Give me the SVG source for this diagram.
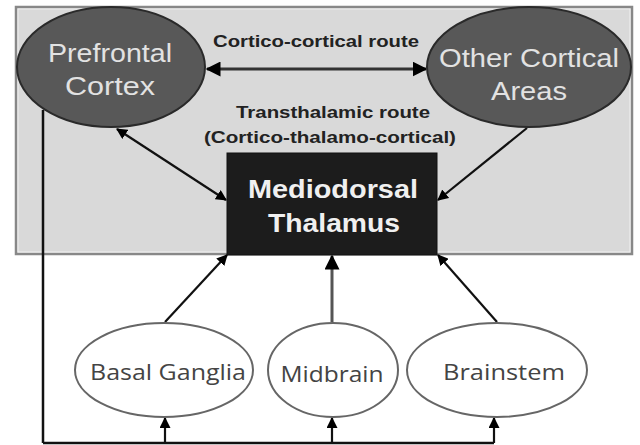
<svg xmlns="http://www.w3.org/2000/svg" width="640" height="445" viewBox="0 0 640 445">
<style>
.dark{fill:#585858;stroke:#2a2a2a;stroke-width:2}
.light{fill:#fff;stroke:#666;stroke-width:2}
.wt{font-family:"Liberation Sans",Arial,sans-serif;font-size:26px;fill:#e2e2e2;text-anchor:middle}
.bt{font-family:"Liberation Sans",Arial,sans-serif;font-size:16px;font-weight:bold;fill:#222;text-anchor:middle}
.lt{font-family:"Open Sans","Noto Sans",sans-serif;font-size:22px;fill:#444;text-anchor:middle}
.ln{stroke:#111;stroke-width:2.2;fill:none}
</style>
<defs>
<marker id="ah" viewBox="0 0 10 10" refX="9" refY="5" markerWidth="5" markerHeight="5" orient="auto-start-reverse">
<path d="M0,0 L10,5 L0,10 z" fill="#000"/>
</marker>
</defs>
<g id="cortex-box">
<rect x="16" y="7" width="616" height="247" fill="#d9d9d9" stroke="#888" stroke-width="2.5"/>
<rect x="18" y="9" width="612" height="243" fill="none" stroke="#f0f0f0" stroke-width="1"/>
</g>
<g id="connectors">
<line class="ln" x1="43" y1="110" x2="43" y2="443" style="stroke-width:2.5"/>
<line class="ln" x1="43" y1="443" x2="494" y2="443" style="stroke-width:2.5"/>
<line class="ln" x1="165" y1="443" x2="165" y2="418" marker-end="url(#ah)"/>
<line class="ln" x1="332" y1="443" x2="332" y2="418" marker-end="url(#ah)"/>
<line class="ln" x1="494" y1="443" x2="494" y2="418" marker-end="url(#ah)"/>
<line class="ln" x1="207" y1="69" x2="426" y2="69" marker-start="url(#ah)" marker-end="url(#ah)" style="stroke:#333;stroke-width:3"/>
<line class="ln" x1="117" y1="129" x2="226" y2="200" marker-start="url(#ah)" marker-end="url(#ah)"/>
<line class="ln" x1="527" y1="128" x2="438" y2="200" marker-end="url(#ah)"/>
<line class="ln" x1="165" y1="322" x2="227" y2="255" marker-end="url(#ah)"/>
<line class="ln" x1="332" y1="322" x2="332" y2="256" marker-end="url(#ah)" style="stroke:#555;stroke-width:3"/>
<line class="ln" x1="497" y1="322" x2="438" y2="255" marker-end="url(#ah)"/>
</g>
<g id="labels">
<text class="bt" x="316" y="47" textLength="206" lengthAdjust="spacingAndGlyphs">Cortico-cortical route</text>
<text class="bt" x="333" y="118" textLength="194" lengthAdjust="spacingAndGlyphs">Transthalamic route</text>
<text class="bt" x="330" y="143" textLength="252" lengthAdjust="spacingAndGlyphs">(Cortico-thalamo-cortical)</text>
</g>
<g id="prefrontal">
<ellipse class="dark" cx="111" cy="67" rx="94" ry="60"/>
<text class="wt" x="110" y="62" textLength="124" lengthAdjust="spacingAndGlyphs">Prefrontal</text>
<text class="wt" x="110" y="95" textLength="90" lengthAdjust="spacingAndGlyphs">Cortex</text>
</g>
<g id="other-cortical">
<ellipse class="dark" cx="529" cy="67" rx="102" ry="60"/>
<text class="wt" x="529" y="67" textLength="180" lengthAdjust="spacingAndGlyphs">Other Cortical</text>
<text class="wt" x="529" y="100" textLength="76" lengthAdjust="spacingAndGlyphs">Areas</text>
</g>
<g id="thalamus">
<rect x="227" y="153" width="210" height="102" fill="#1c1c1c" stroke="#111" stroke-width="1"/>
<text class="wt" x="333" y="198" textLength="170" lengthAdjust="spacingAndGlyphs" style="font-weight:bold;fill:#f0f0f0">Mediodorsal</text>
<text class="wt" x="334" y="232" textLength="132" lengthAdjust="spacingAndGlyphs" style="font-weight:bold;fill:#f0f0f0">Thalamus</text>
</g>
<g id="basal-ganglia">
<ellipse class="light" cx="164" cy="370" rx="89" ry="47"/>
<text class="lt" x="168" y="380" textLength="156" lengthAdjust="spacingAndGlyphs">Basal Ganglia</text>
</g>
<g id="midbrain">
<ellipse class="light" cx="333" cy="370" rx="65" ry="47"/>
<text class="lt" x="332" y="382" textLength="103" lengthAdjust="spacingAndGlyphs">Midbrain</text>
</g>
<g id="brainstem">
<ellipse class="light" cx="497" cy="370" rx="90" ry="47"/>
<text class="lt" x="504" y="380" textLength="122" lengthAdjust="spacingAndGlyphs">Brainstem</text>
</g>
</svg>
